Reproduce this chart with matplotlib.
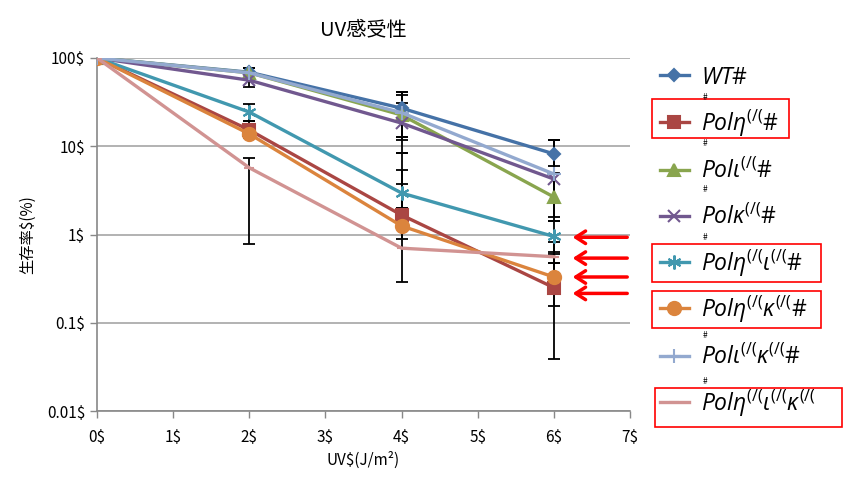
import matplotlib
matplotlib.use('Agg')
import matplotlib.pyplot as plt
from matplotlib.patches import Rectangle
import numpy as np

plt.rcParams['font.family'] = ['Noto Sans CJK JP', 'DejaVu Sans']
plt.rcParams['mathtext.fontset'] = 'custom'
plt.rcParams['mathtext.it'] = 'Open Sans:italic'
plt.rcParams['mathtext.rm'] = 'Open Sans'

# data
dose = [0, 2, 4, 6]
labels = [r'$WT\#$', r'$Pol\eta^{(/(}\#$', r'$Pol\iota^{(/(}\#$', r'$Pol\kappa^{(/(}\#$',
          r'$Pol\eta^{(/(}\iota^{(/(}\#$', r'$Pol\eta^{(/(}\kappa^{(/(}\#$',
          r'$Pol\iota^{(/(}\kappa^{(/(}\#$', r'$Pol\eta^{(/(}\iota^{(/(}\kappa^{(/(}$']
survival = [
    [100, 69, 27, 8.2],
    [100, 15.3, 1.66, 0.25],
    [100, 68, 22.6, 2.66],
    [100, 56, 18.3, 4.25],
    [100, 24.4, 2.95, 0.95],
    [100, 13.8, 1.25, 0.33],
    [100, 68, 24, 4.85],
    [100, 5.7, 0.70, 0.56],
]
err_lo = [
    [100, 60, 12.7, 5.0],
    [100, 12.4, 1.2, 0.039],
    [100, 60, 8.4, 1.58],
    [100, 47, 11.7, 2.33],
    [100, 19.4, 2.0, 0.63],
    [100, 12.4, 0.9, 0.155],
    [100, 60, 12.7, 1.42],
    [100, 0.78, 0.29, 0.48],
]
err_hi = [
    [100, 77, 41, 11.8],
    [100, 19.4, 2.0, 0.48],
    [100, 77, 38, 11.8],
    [100, 69, 31, 6.0],
    [100, 30, 5.4, 1.42],
    [100, 17, 3.7, 0.6],
    [100, 77, 41, 11.8],
    [100, 7.4, 8.4, 0.83],
]
colors = ['#4572A7', '#AA4643', '#89A54E', '#71588F', '#4198AF', '#DB843D', '#93A9CF', '#D19392']
markers = ['D', 's', '^', 'x', (6, 2, 0), 'o', '+', '_']
msizes = [6, 8.5, 8.5, 8, 10, 9.5, 10, 7]
arrow_y = [0.93, 0.54, 0.33, 0.215]

fig = plt.figure(figsize=(8.43, 4.88), dpi=100)
ax = fig.add_axes([97 / 843, 1 - 411 / 488, 533 / 843, 353 / 488])

handles = []
for i in range(len(labels)):
    y = np.array(survival[i])
    lo = y - np.array(err_lo[i])
    hi = np.array(err_hi[i]) - y
    ax.errorbar(dose, y, yerr=[lo, hi], fmt='none', ecolor='black', elinewidth=1.3,
                capsize=4.5, capthick=1.3, zorder=2)
    h, = ax.plot(dose, y, color=colors[i], lw=2.4, marker=markers[i], ms=msizes[i],
                 mew=1.5, mfc=colors[i], mec=colors[i], zorder=3)
    handles.append(h)

ax.set_yscale('log')
ax.set_ylim(0.01, 100)
ax.set_xlim(0, 7)
ax.set_yticks([0.01, 0.1, 1, 10, 100])
ax.set_yticklabels(['0.01$', '0.1$', '1$', '10$', '100$'])
ax.minorticks_off()
ax.set_xticks(range(8))
ax.set_xticklabels(['%d$' % v for v in range(8)])
ax.tick_params(axis='both', labelsize=11, color='#888888', length=5, width=1)
ax.tick_params(axis='x', pad=8)
ax.yaxis.grid(True, color='#A6A6A6', lw=1.2)
ax.set_axisbelow(True)
for s in ['top', 'right']:
    ax.spines[s].set_visible(False)
for s in ['left', 'bottom']:
    ax.spines[s].set_color('#888888')
    ax.spines[s].set_linewidth(1.2)

ax.set_title('UV感受性', fontsize=14.5, pad=16)
ax.set_xlabel('UV$(J/m²)', fontsize=11, labelpad=4)
ax.set_ylabel('生存率$(%)', fontsize=11, labelpad=8)

# one legend row per series, evenly spaced like the original
row_px = [77, 123, 170, 216, 263, 309, 356, 403]
for h, lab, ry in zip(handles, labels, row_px):
    fig.legend([h], [lab], loc='center left', bbox_to_anchor=(660 / 843, 1 - ry / 488),
               frameon=False, fontsize=16.5, handlelength=1.25, handletextpad=0.55,
               borderpad=0, borderaxespad=0)

# arrows pointing at the lower curves
for yv in arrow_y:
    ax.annotate('', xy=(6.21, yv), xytext=(7.0, yv), annotation_clip=False,
                arrowprops=dict(arrowstyle='->,head_length=0.7,head_width=0.45',
                                color='red', lw=2.5))

# red boxes around the legend entries
box_px = [(652, 99, 137, 39), (652, 244, 169, 38), (652, 291, 169, 37), (655, 388, 187, 39)]
for (bx, by, bw, bh) in box_px:
    fig.add_artist(Rectangle((bx / 843, 1 - (by + bh) / 488), bw / 843, bh / 488,
                             transform=fig.transFigure, fill=False, ec='red', lw=1.2))

for yy in [98, 143, 190, 238, 336, 382]:
    fig.text(705 / 843, 1 - yy / 488, '#', fontsize=6, ha='center', va='center',
             style='italic')

fig.savefig('out.png', dpi=100)
